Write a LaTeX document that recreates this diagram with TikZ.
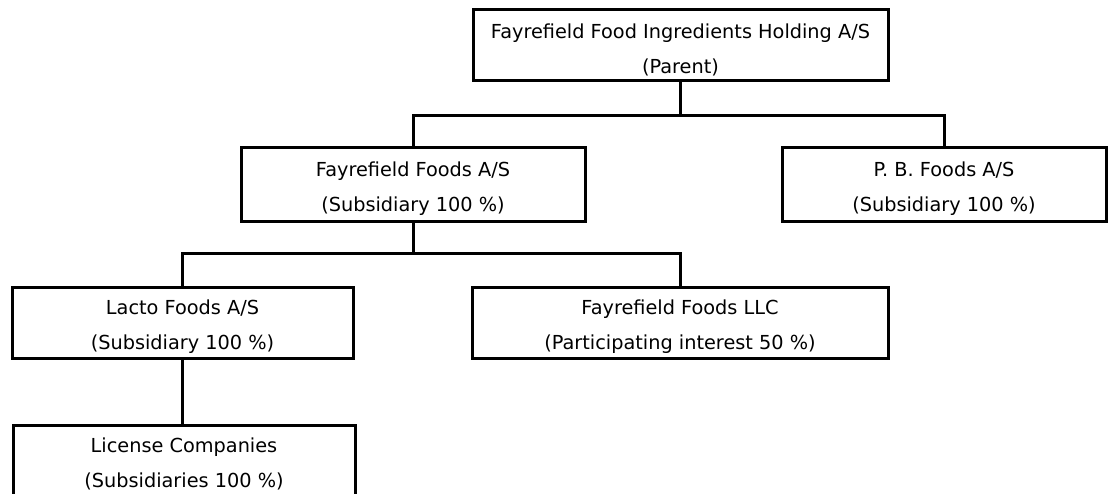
\documentclass[tikz,border=0pt]{standalone}
\usepackage{fontspec}
\setmainfont{DejaVu Sans}
\newcommand{\firmtext}[2]{\rule{0pt}{23pt}#1\\#2}
\begin{document}
\begin{tikzpicture}[x=1pt,y=-1pt,
    firm/.style={draw, line width=3pt, align=center, inner sep=0pt,
    font=\fontsize{19.3}{35}\selectfont},
    link/.style={line width=3pt}]
    \useasboundingbox (0,0) rectangle (1108,494);

    \node[firm, minimum width=415pt, minimum height=71pt] (par) at (680.5,45.5)
    {\firmtext{Fayrefield Food Ingredients Holding A/S}{(Parent)}};

    \node[firm, minimum width=344pt, minimum height=74pt] (ff) at (413,185)
    {\firmtext{Fayrefield Foods A/S}{(Subsidiary 100 \%)}};
    \node[firm, minimum width=324pt, minimum height=74pt] (pb) at (944,185)
    {\firmtext{P. B. Foods A/S}{(Subsidiary 100 \%)}};

    \node[firm, minimum width=341pt, minimum height=70pt] (lacto) at (182.5,323)
    {\firmtext{Lacto Foods A/S}{(Subsidiary 100 \%)}};
    \node[firm, minimum width=416pt, minimum height=70pt] (llc) at (680,323)
    {\firmtext{Fayrefield Foods LLC}{(Participating interest 50 \%)}};

    \node[firm, minimum width=342pt, minimum height=70pt] (lic) at (184,460)
    {\firmtext{License Companies}{(Subsidiaries 100 \%)}};

    \coordinate (bus1) at (0,116);
    \coordinate (bus2) at (0,254);

    \draw[link] (par.south) -- (par.south |- bus1);
    \draw[link] (ff.north) |- (pb.north |- bus1) -- (pb.north);

    \draw[link] (ff.south) -- (ff.south |- bus2);
    \draw[link] (lacto.north) |- (llc.north |- bus2) -- (llc.north);

    \draw[link] (lacto.south) -- (lic.north -| lacto.south);
\end{tikzpicture}
\end{document}
